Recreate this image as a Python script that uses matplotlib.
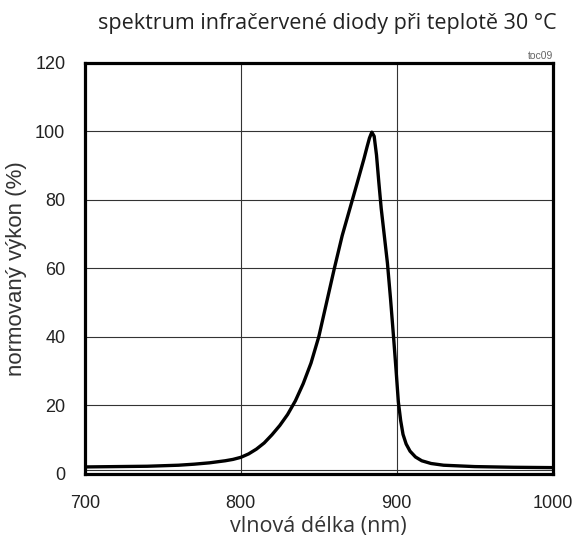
import matplotlib
matplotlib.use("Agg")
import matplotlib.pyplot as plt

# spectrum
wavelength = [700, 720, 740, 760, 770, 780, 790, 795, 800, 805, 810, 815, 820, 825,
              830, 835, 840, 845, 850, 855, 860, 865, 870, 875, 879, 881, 882.5, 884,
              885.5, 887, 888.5, 890, 892, 894, 896, 898, 899.5, 901, 902.5, 904, 906,
              908.5, 912, 916, 922, 930, 950, 975, 1000]
power = [2.0, 2.1, 2.2, 2.5, 2.8, 3.2, 3.8, 4.2, 4.8, 5.8, 7.2, 9.0, 11.4, 14.1,
         17.3, 21.3, 26.3, 32.3, 40, 50, 60, 69.5, 77.5, 85.5, 92, 95.5, 98, 99.7,
         98.5, 93, 85, 77.5, 69.5, 61.5, 51, 39.5, 30.5, 21, 15.5, 11.5, 8.7,
         6.6, 4.9, 3.8, 3.0, 2.5, 2.1, 1.9, 1.8]

x_ticks = [700, 800, 900, 1000]
y_ticks = [0, 20, 40, 60, 80, 100, 120]

fig = plt.figure(figsize=(5.77, 5.49), dpi=100)
ax = fig.add_axes([0.147, 0.137, 0.811, 0.749])

# grid: only the inner lines, plus a thin baseline just above zero
for x in [800, 900]:
    ax.axvline(x, color="#333333", lw=0.8, zorder=1)
for y in [20, 40, 60, 80, 100]:
    ax.axhline(y, color="#333333", lw=0.8, zorder=1)
ax.axhline(1.2, color="#333333", lw=0.8, zorder=1)

ax.plot(wavelength, power, color="black", lw=2.4, zorder=3,
        solid_joinstyle="round", solid_capstyle="round")

ax.set_xlim(700, 1000)
ax.set_ylim(0, 120)
ax.set_xticks(x_ticks)
ax.set_yticks(y_ticks)
ax.tick_params(length=0, labelsize=13)
ax.tick_params(axis="x", pad=15)
ax.tick_params(axis="y", pad=14)
for lab in ax.get_xticklabels() + ax.get_yticklabels():
    lab.set_family("Liberation Sans")
    lab.set_color("#222222")
for s in ax.spines.values():
    s.set_linewidth(2.3)

ax.set_ylabel("normovaný výkon (%)", fontsize=16, family="Liberation Sans",
              color="#333333", labelpad=6)
ax.set_xlabel("vlnová délka (nm)", fontsize=15.5, family="Open Sans",
              color="#333333", labelpad=3)
fig.text(0.965, 0.958, "spektrum infračervené diody při teplotě 30 °C",
         ha="right", va="center", fontsize=15.5, family="Open Sans", color="#222222")
ax.text(1.0, 1.005, "toc09", transform=ax.transAxes, ha="right", va="bottom",
        fontsize=7.5, family="Liberation Sans", color="#666666")

fig.savefig("out.png", dpi=100)
